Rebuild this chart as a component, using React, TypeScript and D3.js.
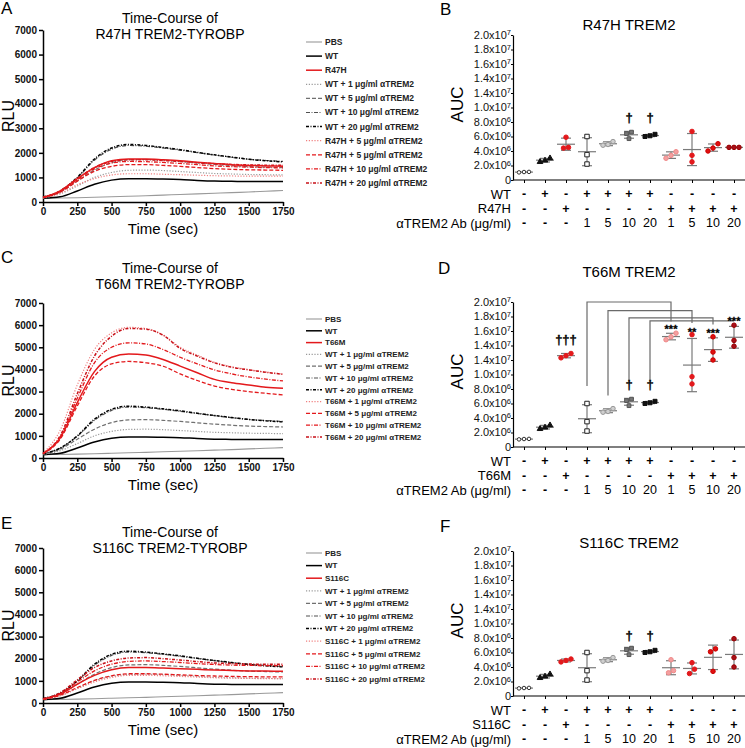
import { useEffect, useRef } from 'react';
import * as d3 from 'd3';

const FONT = "'Liberation Sans', Arial, Helvetica, sans-serif";
const RED = '#e3191c';

// time axis (sec) and tick values
const TIMES = [0, 125, 250, 375, 500, 625, 750, 875, 1000, 1125, 1250, 1375, 1500, 1625, 1750];
const timeTicks = [0, 250, 500, 750, 1000, 1250, 1500, 1750];
const rluTicks = [0, 1000, 2000, 3000, 4000, 5000, 6000, 7000];

// shared control curves (RLU)
const pbsRlu = [150, 160, 175, 195, 215, 235, 255, 280, 305, 330, 355, 380, 410, 440, 470];
const wtRlu = [150, 210, 450, 720, 890, 950, 950, 940, 920, 880, 850, 840, 830, 830, 830];
const wt1Rlu = [160, 330, 650, 1000, 1200, 1290, 1300, 1280, 1240, 1200, 1160, 1140, 1120, 1110, 1100];
const wt5Rlu = [170, 400, 850, 1300, 1600, 1720, 1730, 1700, 1650, 1590, 1530, 1480, 1440, 1420, 1400];
const wt10Rlu = [190, 440, 980, 1700, 2150, 2300, 2270, 2200, 2110, 2010, 1910, 1820, 1740, 1690, 1650];
const wt20Rlu = [200, 450, 1000, 1750, 2200, 2340, 2300, 2220, 2130, 2020, 1920, 1830, 1740, 1680, 1630];

// R47H curves
const r47hRlu = [180, 450, 950, 1400, 1680, 1750, 1750, 1720, 1680, 1620, 1570, 1520, 1490, 1470, 1450];
const r47h1Rlu = [170, 350, 700, 950, 1100, 1150, 1150, 1130, 1110, 1090, 1070, 1060, 1050, 1050, 1050];
const r47h5Rlu = [180, 400, 850, 1250, 1450, 1520, 1520, 1490, 1450, 1400, 1360, 1330, 1310, 1300, 1290];
const r47h10Rlu = [180, 420, 900, 1350, 1580, 1650, 1640, 1610, 1570, 1520, 1470, 1440, 1420, 1400, 1390];
const r47h20Rlu = [190, 440, 950, 1400, 1650, 1720, 1720, 1690, 1650, 1600, 1560, 1530, 1510, 1500, 1500];

// T66M curves
const t66mRlu = [200, 900, 2500, 3900, 4550, 4700, 4650, 4450, 4150, 3850, 3550, 3400, 3300, 3200, 3150];
const t66m1Rlu = [220, 1250, 3300, 4900, 5650, 5900, 5850, 5550, 5000, 4650, 4320, 4120, 3990, 3880, 3790];
const t66m5Rlu = [190, 850, 2350, 3700, 4250, 4360, 4300, 4150, 3800, 3500, 3250, 3100, 3000, 2920, 2850];
const t66m10Rlu = [200, 950, 2700, 4300, 5000, 5200, 5150, 4900, 4550, 4250, 3980, 3800, 3660, 3560, 3480];
const t66m20Rlu = [200, 1000, 2900, 4600, 5500, 5850, 5820, 5550, 4950, 4600, 4300, 4100, 3980, 3870, 3780];

// S116C curves
const s116cRlu = [170, 400, 850, 1250, 1500, 1600, 1600, 1580, 1550, 1520, 1490, 1470, 1450, 1440, 1430];
const s116c1Rlu = [170, 330, 650, 950, 1150, 1250, 1250, 1230, 1200, 1170, 1140, 1120, 1110, 1100, 1100];
const s116c5Rlu = [170, 350, 700, 1020, 1230, 1320, 1320, 1300, 1270, 1240, 1220, 1200, 1190, 1180, 1180];
const s116c10Rlu = [180, 430, 950, 1450, 1750, 1880, 1900, 1870, 1830, 1780, 1740, 1710, 1700, 1690, 1690];
const s116c20Rlu = [190, 460, 1050, 1600, 1900, 2030, 2050, 2000, 1940, 1870, 1810, 1780, 1760, 1750, 1750];

const r47hLegend = ['PBS', 'WT', 'R47H', 'WT + 1 μg/ml αTREM2', 'WT + 5 μg/ml αTREM2', 'WT + 10 μg/ml αTREM2', 'WT + 20 μg/ml αTREM2', 'R47H + 5 μg/ml αTREM2', 'R47H + 5 μg/ml αTREM2', 'R47H + 10 μg/ml αTREM2', 'R47H + 20 μg/ml αTREM2'];
const t66mLegend = ['PBS', 'WT', 'T66M', 'WT + 1 μg/ml αTREM2', 'WT + 5 μg/ml αTREM2', 'WT + 10 μg/ml αTREM2', 'WT + 20 μg/ml αTREM2', 'T66M + 1 μg/ml αTREM2', 'T66M + 5 μg/ml αTREM2', 'T66M + 10 μg/ml αTREM2', 'T66M + 20 μg/ml αTREM2'];
const s116cLegend = ['PBS', 'WT', 'S116C', 'WT + 1 μg/ml αTREM2', 'WT + 5 μg/ml αTREM2', 'WT + 10 μg/ml αTREM2', 'WT + 20 μg/ml αTREM2', 'S116C + 1 μg/ml αTREM2', 'S116C + 5 μg/ml αTREM2', 'S116C + 10 μg/ml αTREM2', 'S116C + 20 μg/ml αTREM2'];

// AUC (x10^6) per group, three replicates
const pbsAuc = [1.05, 1.1, 1.12];
const wtAuc = [3.0, 2.5, 2.7];
const wt1Auc = [6.0, 3.5, 2.2];
const wt5Auc = [5.3, 4.9, 4.8];
const wt10Auc = [6.6, 6.4, 5.7];
const wt20Auc = [6.3, 6.0, 6.1];
const r47hAuc = [5.9, 4.5, 4.4];
const r47h1Auc = [3.9, 3.4, 3.0];
const r47h5Auc = [6.7, 3.4, 2.5];
const r47h10Auc = [5.0, 4.4, 4.0];
const r47h20Auc = [4.5, 4.5, 4.5];
const t66mAuc = [12.9, 12.6, 12.3];
const t66m1Auc = [15.7, 15.2, 14.8];
const t66m5Auc = [15.5, 9.7, 8.7];
const t66m10Auc = [15.2, 13.1, 12.0];
const t66m20Auc = [16.8, 14.7, 13.9];
const s116cAuc = [5.1, 4.9, 4.7];
const s116c1Auc = [5.0, 3.5, 3.2];
const s116c5Auc = [4.6, 3.7, 3.1];
const s116c10Auc = [6.5, 6.1, 3.4];
const s116c20Auc = [7.9, 5.3, 4.0];

const aucTicks = [0, 2, 4, 6, 8, 10, 12, 14, 16, 18, 20];
const aucTickText = ['0', '2.0x10', '4.0x10', '6.0x10', '8.0x10', '1.0x10', '1.4x10', '1.4x10', '1.6x10', '1.8x10', '2.0x10'];
const aucTickExp = ['', '6', '6', '6', '6', '7', '7', '7', '7', '7', '7'];

const wtRow = ['-', '+', '-', '+', '+', '+', '+', '-', '-', '-', '-'];
const mutRow = ['-', '-', '+', '-', '-', '-', '-', '+', '+', '+', '+'];
const abRow = ['-', '-', '-', '1', '5', '10', '20', '1', '5', '10', '20'];

// significance marks (value in x10^6)
const r47hMarks = [{ col: 5, v: 8.7, text: '†' }, { col: 6, v: 8.7, text: '†' }];
const t66mMarks = [
  { col: 2, v: 14.9, text: '†††' }, { col: 5, v: 8.7, text: '†' }, { col: 6, v: 8.7, text: '†' },
  { col: 7, v: 16.8, text: '***' }, { col: 8, v: 16.4, text: '**' }, { col: 9, v: 16.3, text: '***' }, { col: 10, v: 17.9, text: '***' },
];
const s116cMarks = [{ col: 5, v: 8.4, text: '†' }, { col: 6, v: 8.4, text: '†' }];
const t66mBrackets = [
  { from: 3, to: 7, low: 8.4, top: 20.0, end: 17.3 },
  { from: 4, to: 8, low: 7.1, top: 18.8, end: 17.1 },
  { from: 5, to: 9, low: 9.2, top: 17.8, end: 16.9 },
  { from: 6, to: 10, low: 9.2, top: 17.4, end: 17.4 },
];

const lineStyles = [
  { color: '#9a9a9a', width: 1.1, dash: null },
  { color: '#000', width: 1.5, dash: null },
  { color: RED, width: 1.5, dash: null },
  { color: '#9a9a9a', width: 1.2, dash: '1.2,1.6' },
  { color: '#707070', width: 1.2, dash: '4,2' },
  { color: '#505050', width: 1.2, dash: '4,1.5,1,1.5' },
  { color: '#000', width: 1.5, dash: '3,1.5,1,1.5' },
  { color: '#f08080', width: 1.2, dash: '1.2,1.6' },
  { color: RED, width: 1.3, dash: '4,2' },
  { color: RED, width: 1.3, dash: '4,1.5,1,1.5' },
  { color: '#c81018', width: 1.5, dash: '3,1.5,1,1.5' },
];

const markerStyles = [
  { type: d3.symbolCircle, size: 10, fill: '#fff', stroke: '#333' },
  { type: d3.symbolTriangle, size: 14, fill: '#111', stroke: '#111' },
  { type: d3.symbolCircle, size: 16, fill: RED, stroke: RED },
  { type: d3.symbolSquare, size: 20, fill: '#fff', stroke: '#222' },
  { type: d3.symbolCircle, size: 16, fill: '#cfcfcf', stroke: '#999' },
  { type: d3.symbolSquare, size: 14, fill: '#777', stroke: '#555' },
  { type: d3.symbolSquare, size: 16, fill: '#111', stroke: '#111' },
  { type: d3.symbolCircle, size: 16, fill: '#f4a0a0', stroke: '#f08a8a' },
  { type: d3.symbolCircle, size: 16, fill: RED, stroke: RED },
  { type: d3.symbolCircle, size: 16, fill: '#e01010', stroke: '#c00' },
  { type: d3.symbolCircle, size: 16, fill: '#a8101a', stroke: '#900' },
];

type Sel = d3.Selection<SVGSVGElement, unknown, null, undefined>;

function drawTimeCourse(svg: Sel, cfg: any) {
  const g = svg.append('g');
  const x = d3.scaleLinear().domain([0, 1750]).range([43, 283]);
  const y = d3.scaleLinear().domain([0, 7000]).range([cfg.yBot, cfg.yTop]);

  g.append('text').attr('x', 1).attr('y', cfg.letterY)
    .style('font-size', '17px').style('font-family', FONT).text(cfg.letter);

  cfg.title.forEach((t: string, i: number) => {
    g.append('text').attr('x', 170).attr('y', cfg.titleY + i * 16)
      .attr('text-anchor', 'middle').style('font-size', '14px').style('font-family', FONT).text(t);
  });

  const ya = g.append('g').attr('transform', 'translate(43,0)')
    .call(d3.axisLeft(y).tickValues(rluTicks).tickFormat(d3.format('d')).tickSize(4).tickSizeOuter(0).tickPadding(2));
  const xa = g.append('g').attr('transform', `translate(0,${cfg.yBot})`)
    .call(d3.axisBottom(x).tickValues(timeTicks).tickFormat(d3.format('d')).tickSize(4).tickSizeOuter(0).tickPadding(2));
  [ya, xa].forEach(a => {
    a.selectAll('path,line').attr('stroke', '#000').attr('stroke-width', 1.5);
    a.selectAll('text').style('font-size', '10px').style('font-weight', 'bold')
      .style('font-family', FONT).attr('fill', '#111');
  });

  g.append('text').attr('x', 163).attr('y', cfg.yBot + 32).attr('text-anchor', 'middle')
    .style('font-size', '15px').style('font-family', FONT).text('Time (sec)');
  g.append('text').attr('transform', `translate(14,${(cfg.yTop + cfg.yBot) / 2}) rotate(-90)`)
    .attr('text-anchor', 'middle').style('font-size', '16px').style('font-family', FONT).text('RLU');

  const line = d3.line<number>().x((_, i) => x(TIMES[i])).y(d => y(d)).curve(d3.curveMonotoneX);
  [0, 1, 3, 4, 5, 6, 7, 8, 9, 10, 2].forEach(i => {
    const st = lineStyles[i];
    g.append('path').attr('d', line(cfg.series[i]))
      .attr('fill', 'none').attr('stroke', st.color).attr('stroke-width', st.width)
      .attr('stroke-dasharray', st.dash);
  });

  const lg = g.append('g');
  cfg.legend.forEach((label: string, i: number) => {
    const ly = cfg.legendY + i * cfg.legendStep;
    const st = lineStyles[i];
    lg.append('line').attr('x1', 306).attr('x2', 322).attr('y1', ly).attr('y2', ly)
      .attr('stroke', st.color).attr('stroke-width', st.width).attr('stroke-dasharray', st.dash);
    lg.append('text').attr('x', 325).attr('y', ly).attr('dy', '0.35em')
      .style('font-size', cfg.legendFont).style('font-weight', 'bold')
      .style('font-family', FONT).attr('fill', '#222').text(label);
  });
}

function spread(vals: number[]) {
  const idx = vals.map((v, i) => i).sort((a, b) => vals[a] - vals[b]);
  const offs = new Array(vals.length).fill(0);
  let group: number[] = [];
  const flush = () => {
    group.forEach((gi, k) => { offs[gi] = (k - (group.length - 1) / 2) * 5; });
    group = [];
  };
  idx.forEach(i => {
    if (group.length && vals[i] - vals[group[group.length - 1]] > 0.7) flush();
    group.push(i);
  });
  flush();
  return offs;
}

function drawDotPlot(svg: Sel, cfg: any) {
  const g = svg.append('g');
  const x = d3.scalePoint<number>().domain(d3.range(11)).range([524, 734]);
  const y = d3.scaleLinear().domain([0, 20]).range([cfg.yBot, cfg.yTop]);

  g.append('text').attr('x', cfg.letterX).attr('y', cfg.letterY)
    .style('font-size', '17px').style('font-family', FONT).text(cfg.letter);
  g.append('text').attr('x', 629).attr('y', cfg.titleY).attr('text-anchor', 'middle')
    .style('font-size', '15px').style('font-family', FONT).text(cfg.title);
  g.append('text').attr('transform', `translate(463,${(cfg.yTop + cfg.yBot) / 2 - 3}) rotate(-90)`)
    .attr('text-anchor', 'middle').style('font-size', '17px').style('font-family', FONT).text('AUC');

  const ya = g.append('g').attr('transform', 'translate(513,0)')
    .call(d3.axisLeft(y).tickValues(aucTicks).tickSize(2).tickSizeOuter(0).tickFormat(() => ''));
  ya.selectAll('path,line').attr('stroke', '#000').attr('stroke-width', 1.2);
  aucTicks.forEach((v, i) => {
    const t = g.append('text').attr('x', 511).attr('y', y(v)).attr('dy', '0.35em')
      .attr('text-anchor', 'end').style('font-size', '11px').style('font-family', FONT).attr('fill', '#111');
    t.append('tspan').text(aucTickText[i]);
    if (aucTickExp[i]) t.append('tspan').attr('dy', -3.5).style('font-size', '7.5px').text(aucTickExp[i]);
  });

  const xa = g.append('g').attr('transform', `translate(0,${cfg.yBot})`)
    .call(d3.axisBottom(x).tickSize(3).tickFormat(() => ''));
  xa.select('.domain').remove();
  xa.selectAll('line').attr('stroke', '#000').attr('stroke-width', 1);
  g.append('line').attr('x1', 513).attr('x2', 745).attr('y1', cfg.yBot).attr('y2', cfg.yBot)
    .attr('stroke', '#000').attr('stroke-width', 1.2);

  // brackets
  (cfg.brackets || []).forEach((b: any) => {
    g.append('path')
      .attr('d', `M${x(b.from)},${y(b.low)}V${y(b.top)}H${x(b.to)}V${y(b.end)}`)
      .attr('fill', 'none').attr('stroke', '#6a6a6a').attr('stroke-width', 1.2);
  });

  // mean +/- SD and points
  cfg.values.forEach((vals: number[], i: number) => {
    const cx = x(i) as number;
    const m = d3.mean(vals) as number;
    const sd = d3.deviation(vals) || 0;
    const eg = g.append('g').attr('stroke', '#7a7a7a').attr('stroke-width', 1.2);
    eg.append('line').attr('x1', cx - 9).attr('x2', cx + 9).attr('y1', y(m)).attr('y2', y(m));
    if (sd > 0.05) {
      eg.append('line').attr('x1', cx).attr('x2', cx).attr('y1', y(m - sd)).attr('y2', y(m + sd));
      [m - sd, m + sd].forEach(v => eg.append('line').attr('x1', cx - 5).attr('x2', cx + 5).attr('y1', y(v)).attr('y2', y(v)));
    }
    const ms = markerStyles[i];
    const offs = spread(vals);
    vals.forEach((v, k) => {
      g.append('path').attr('d', d3.symbol().type(ms.type).size(ms.size)())
        .attr('transform', `translate(${cx + offs[k]},${y(v)})`)
        .attr('fill', ms.fill).attr('stroke', ms.stroke).attr('stroke-width', 1);
    });
  });

  cfg.marks.forEach((mk: any) => {
    const dag = mk.text.startsWith('†');
    g.append('text').attr('x', x(mk.col) as number).attr('y', y(mk.v)).attr('dy', dag ? '0.4em' : '0.7em')
      .attr('text-anchor', 'middle').attr('fill', '#000').attr('stroke', '#000').attr('stroke-width', 0.3)
      .style('font-size', dag ? '13px' : '11px').style('font-weight', 'bold')
      .style('font-family', FONT).text(mk.text);
  });

  // condition table
  const rows = [
    { label: 'WT', vals: wtRow },
    { label: cfg.mutant, vals: mutRow },
    { label: 'αTREM2 Ab (μg/ml)', vals: abRow },
  ];
  rows.forEach((r, ri) => {
    const ry = cfg.yBot + 14 + ri * 14.5;
    g.append('text').attr('x', 511).attr('y', ry).attr('dy', '0.35em').attr('text-anchor', 'end')
      .style('font-size', '13px').style('font-family', FONT).text(r.label);
    r.vals.forEach((s, ci) => {
      const sym = s === '+' || s === '-';
      g.append('text').attr('x', x(ci) as number).attr('y', ry).attr('dy', '0.35em').attr('text-anchor', 'middle')
        .style('font-size', '12.5px').style('font-weight', sym ? 'bold' : 'normal')
        .style('font-family', FONT).text(s);
    });
  });
}

export default function App() {
  const svgRef = useRef<SVGSVGElement>(null);

  useEffect(() => {
    const svg = d3.select(svgRef.current as SVGSVGElement);
    svg.selectAll('*').remove();

    drawTimeCourse(svg, {
      letter: 'A', letterY: 14, title: ['Time-Course of', 'R47H TREM2-TYROBP'], titleY: 23,
      yTop: 30, yBot: 202, legendY: 42, legendStep: 14.1, legendFont: '8.5px', legend: r47hLegend,
      series: [pbsRlu, wtRlu, r47hRlu, wt1Rlu, wt5Rlu, wt10Rlu, wt20Rlu, r47h1Rlu, r47h5Rlu, r47h10Rlu, r47h20Rlu],
    });
    drawTimeCourse(svg, {
      letter: 'C', letterY: 263, title: ['Time-Course of', 'T66M TREM2-TYROBP'], titleY: 273,
      yTop: 303, yBot: 458, legendY: 319, legendStep: 11.8, legendFont: '8px', legend: t66mLegend,
      series: [pbsRlu, wtRlu, t66mRlu, wt1Rlu, wt5Rlu, wt10Rlu, wt20Rlu, t66m1Rlu, t66m5Rlu, t66m10Rlu, t66m20Rlu],
    });
    drawTimeCourse(svg, {
      letter: 'E', letterY: 529, title: ['Time-Course of', 'S116C TREM2-TYROBP'], titleY: 537,
      yTop: 548, yBot: 703, legendY: 553, legendStep: 12.6, legendFont: '8px', legend: s116cLegend,
      series: [pbsRlu, wtRlu, s116cRlu, wt1Rlu, wt5Rlu, wt10Rlu, wt20Rlu, s116c1Rlu, s116c5Rlu, s116c10Rlu, s116c20Rlu],
    });

    drawDotPlot(svg, {
      letter: 'B', letterX: 440, letterY: 15, title: 'R47H TREM2', titleY: 30, yTop: 35, yBot: 180,
      mutant: 'R47H', marks: r47hMarks,
      values: [pbsAuc, wtAuc, r47hAuc, wt1Auc, wt5Auc, wt10Auc, wt20Auc, r47h1Auc, r47h5Auc, r47h10Auc, r47h20Auc],
    });
    drawDotPlot(svg, {
      letter: 'D', letterX: 438, letterY: 274, title: 'T66M TREM2', titleY: 277, yTop: 302, yBot: 447,
      mutant: 'T66M', marks: t66mMarks, brackets: t66mBrackets,
      values: [pbsAuc, wtAuc, t66mAuc, wt1Auc, wt5Auc, wt10Auc, wt20Auc, t66m1Auc, t66m5Auc, t66m10Auc, t66m20Auc],
    });
    drawDotPlot(svg, {
      letter: 'F', letterX: 440, letterY: 532, title: 'S116C TREM2', titleY: 548, yTop: 551, yBot: 696,
      mutant: 'S116C', marks: s116cMarks,
      values: [pbsAuc, wtAuc, s116cAuc, wt1Auc, wt5Auc, wt10Auc, wt20Auc, s116c1Auc, s116c5Auc, s116c10Auc, s116c20Auc],
    });
  }, []);

  return (
    <svg ref={svgRef} width={745} height={748}
      style={{ position: 'absolute', left: 0, top: 0, background: '#fff' }} />
  );
}
